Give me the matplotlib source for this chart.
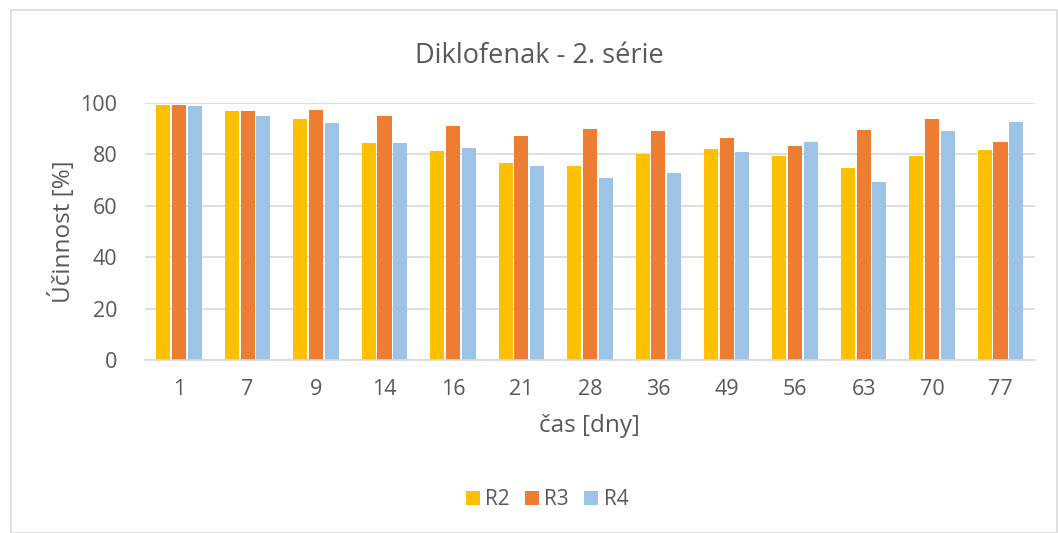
import matplotlib.pyplot as plt
import numpy as np
from matplotlib.patches import Rectangle

days = ["1", "7", "9", "14", "16", "21", "28", "36", "49", "56", "63", "70", "77"]
r2 = [99.2, 97.0, 93.9, 84.3, 81.2, 76.8, 75.5, 80.3, 82.2, 79.3, 74.6, 79.3, 81.7]
r3 = [99.0, 97.0, 97.1, 94.8, 91.0, 87.2, 89.7, 89.2, 86.2, 83.2, 89.4, 93.6, 84.9]
r4 = [98.7, 94.8, 92.2, 84.5, 82.5, 75.3, 70.6, 72.9, 80.9, 84.7, 69.3, 88.9, 92.7]

text_col = "#595959"
plt.rcParams['font.family'] = ['Open Sans', 'DejaVu Sans']

fig = plt.figure(figsize=(10.58, 5.33), dpi=100)
ax = fig.add_axes([0.137, 0.3246, 0.841, 0.4824])

fig.patches.append(Rectangle((11/1058, 0), 1 - 11/1058 - 0.001, 1 - 10/533,
                             transform=fig.transFigure, fill=False,
                             edgecolor="#d9d9d9", linewidth=1.2))

x = np.arange(len(days))
w = 0.205
step = 0.23
ax.bar(x - step, r2, w, color="#ffc000", label="R2")
ax.bar(x, r3, w, color="#ed7d31", label="R3")
ax.bar(x + step, r4, w, color="#9dc3e6", label="R4")

ax.set_xlim(-0.5, len(days) - 0.5)
ax.set_ylim(0, 100)
ax.set_yticks(range(0, 101, 20))
ax.set_xticks(x)
ax.set_xticklabels(days)
ax.yaxis.grid(True, color="#d9d9d9", linewidth=1.2)
ax.set_axisbelow(True)
for s in ["top", "right", "left"]:
    ax.spines[s].set_visible(False)
ax.spines["bottom"].set_color("#d9d9d9")
ax.spines["bottom"].set_linewidth(1.2)
ax.tick_params(length=0, labelsize=15.5, colors=text_col)
ax.tick_params(axis="x", pad=14)
ax.tick_params(axis="y", pad=20)

fig.text(0.51, 0.895, "Diklofenak - 2. série", fontsize=19.5, color=text_col,
         ha="center", va="center")
ax.set_xlabel("čas [dny]", fontsize=17.5, color=text_col, labelpad=10)
ax.set_ylabel("Účinnost [%]", fontsize=17.5, color=text_col, labelpad=3)

fig.legend(loc="center", bbox_to_anchor=(0.517, 0.062), ncol=3, frameon=False,
           fontsize=15, handlelength=0.67, handleheight=0.67, columnspacing=0.75,
           handletextpad=0.25, labelcolor=text_col)

fig.savefig("out.png", dpi=100)
